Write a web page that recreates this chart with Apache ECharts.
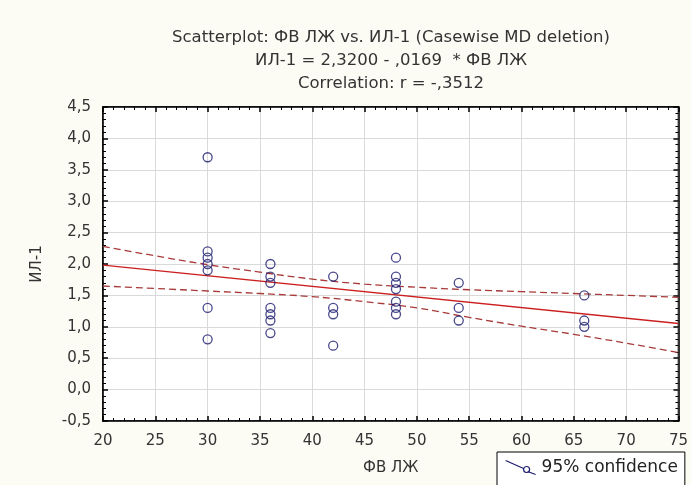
<!DOCTYPE html>
<html><head><meta charset="utf-8">
<script src="https://cdn.jsdelivr.net/npm/echarts@6/dist/echarts.min.js"></script>
<style>html,body{margin:0;padding:0;background:#fcfbf4;}#c{width:691px;height:485px;}</style>
</head><body><div id="c"></div>
<script>
// Observed points (ФВ ЛЖ, ИЛ-1)
const xVals = [30,30,30,30,30,30,30, 36,36,36,36,36,36,36, 42,42,42,42, 48,48,48,48,48,48,48, 54,54,54, 66,66,66];
const yVals = [3.7,2.2,2.1,2.0,1.9,1.3,0.8, 2.0,1.8,1.7,1.3,1.2,1.1,0.9, 1.8,1.3,1.2,0.7, 2.1,1.8,1.7,1.6,1.4,1.3,1.2, 1.7,1.3,1.1, 1.5,1.1,1.0];
// Regression line endpoints (ИЛ-1 = 2.3200 - .0169 * ФВ ЛЖ)
const fitX = [20, 75];
const fitY = [1.982, 1.0525];
// 95% confidence band
const bandX = [20,25,30,35,40,45,50,55,60,65,70,75];
const bandUpper = [2.28,2.13,1.99,1.87,1.76,1.68,1.63,1.59,1.56,1.53,1.50,1.47];
const bandLower = [1.65,1.61,1.57,1.53,1.48,1.40,1.30,1.15,1.01,0.88,0.74,0.59];
const xTicks = [20,25,30,35,40,45,50,55,60,65,70,75];
const yTicks = [-0.5,0,0.5,1,1.5,2,2.5,3,3.5,4,4.5];

const pts = xVals.map((x,i)=>[x,yVals[i]]);
const fit = fitX.map((x,i)=>[x,fitY[i]]);
const up = bandX.map((x,i)=>[x,bandUpper[i]]);
const lo = bandX.map((x,i)=>[x,bandLower[i]]);
const fmt = v => v.toFixed(1).replace('.',',');
const font = 'DejaVu Sans, Verdana, sans-serif';
const tickCommon = () => ({
  axisLine:{show:true,onZero:false,lineStyle:{color:'#000',width:1.5}},
  axisTick:{show:true,inside:true,length:5,lineStyle:{color:'#000',width:1.5}},
  minorTick:{show:true,splitNumber:5,length:3,lineStyle:{color:'#000',width:1}},
});
const chart = echarts.init(document.getElementById('c'));
chart.setOption({
  backgroundColor:'#fcfbf4',
  animation:false,
  title:{
    text:'Scatterplot: ФВ ЛЖ vs. ИЛ-1 (Casewise MD deletion)\nИЛ-1 = 2,3200 - ,0169  * ФВ ЛЖ\nCorrelation: r = -,3512',
    left:386, top:21, textAlign:'center',
    textStyle:{fontFamily:font,fontSize:16.5,fontWeight:'normal',color:'#333',lineHeight:23}
  },
  grid:{left:103,right:12,top:107,bottom:64,show:true,backgroundColor:'#ffffff',borderColor:'#000',borderWidth:1.5},
  xAxis:[
    Object.assign({type:'value',min:20,max:75,interval:5,position:'bottom',
      name:'ФВ ЛЖ',nameLocation:'middle',nameGap:40,
      nameTextStyle:{fontFamily:font,fontSize:15,color:'#333'},
      axisLabel:{fontFamily:font,fontSize:15,color:'#333',margin:13,formatter:v=>String(v)},
      splitLine:{show:true,lineStyle:{color:'#d9d9d9',width:1}}},tickCommon()),
    Object.assign({type:'value',min:20,max:75,interval:5,position:'top',
      axisLabel:{show:false},splitLine:{show:false}},tickCommon())
  ],
  yAxis:[
    Object.assign({type:'value',min:-0.5,max:4.5,interval:0.5,position:'left',
      name:'ИЛ-1',nameLocation:'middle',nameGap:58,nameRotate:90,
      nameTextStyle:{fontFamily:font,fontSize:15,color:'#333'},
      axisLabel:{fontFamily:font,fontSize:15,color:'#333',margin:12,formatter:fmt},
      splitLine:{show:true,lineStyle:{color:'#d9d9d9',width:1}}},tickCommon()),
    Object.assign({type:'value',min:-0.5,max:4.5,interval:0.5,position:'right',
      axisLabel:{show:false},splitLine:{show:false}},tickCommon())
  ],
  legend:{
    data:['95% confidence'],
    left:497, top:452,
    orient:'horizontal',
    borderColor:'#000', borderWidth:1, padding:[7,7,14,8],
    itemWidth:32, itemHeight:14, itemGap:4,
    icon:'path://M0,0 L18,8 M22,11 L30,14 M24,9 A3,3 0 1 1 18,9 A3,3 0 1 1 24,9 Z',
    itemStyle:{color:'transparent',borderColor:'#1a1a6e',borderWidth:1.2},
    textStyle:{fontFamily:font,fontSize:17,color:'#222'},
    backgroundColor:'#ffffff'
  },
  series:[
    {name:'upper',type:'line',data:up,smooth:true,symbol:'none',xAxisIndex:0,yAxisIndex:0,
      lineStyle:{color:'#a83a3a',width:1.3,type:[7,4]},z:2},
    {name:'95% confidence',type:'line',data:lo,smooth:true,symbol:'none',xAxisIndex:0,yAxisIndex:0,
      lineStyle:{color:'#a83a3a',width:1.3,type:[7,4]},z:2},
    {name:'fit',type:'line',data:fit,symbol:'none',xAxisIndex:0,yAxisIndex:0,
      lineStyle:{color:'#cc1f1f',width:1.3},z:3},
    {name:'points',type:'scatter',data:pts,symbol:'circle',symbolSize:9,xAxisIndex:0,yAxisIndex:0,
      itemStyle:{color:'rgba(255,255,255,0)',borderColor:'#1a1a6e',borderWidth:1.3},z:4}
  ]
});
</script></body></html>
